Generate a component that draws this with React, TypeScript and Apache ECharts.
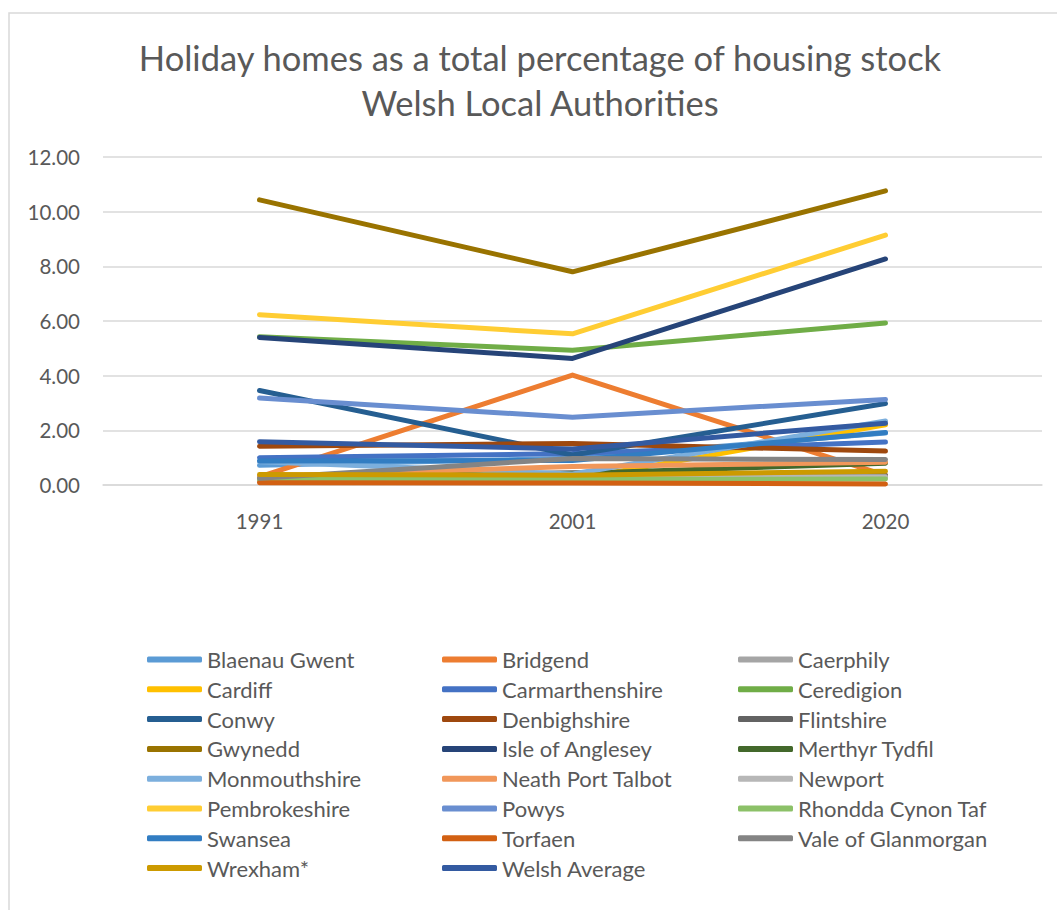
import React, { useEffect, useRef } from "react";
import * as echarts from "echarts";

const years = ["1991", "2001", "2020"];

const seriesNames = [
  "Blaenau Gwent", "Bridgend", "Caerphily",
  "Cardiff", "Carmarthenshire", "Ceredigion",
  "Conwy", "Denbighshire", "Flintshire",
  "Gwynedd", "Isle of Anglesey", "Merthyr Tydfil",
  "Monmouthshire", "Neath Port Talbot", "Newport",
  "Pembrokeshire", "Powys", "Rhondda Cynon Taf",
  "Swansea", "Torfaen", "Vale of Glanmorgan",
  "Wrexham*", "Welsh Average",
];

const blaenauGwent = [0.72, 0.98, 1.9];
const bridgend = [0.3, 4.02, 0.35];
const caerphily = [0.2, 0.2, 0.3];
const cardiff = [0.2, 0.2, 2.2];
const carmarthenshire = [1.0, 1.15, 1.57];
const ceredigion = [5.42, 4.93, 5.93];
const conwy = [3.46, 1.1, 2.98];
const denbighshire = [1.42, 1.52, 1.24];
const flintshire = [0.25, 0.45, 0.36];
const gwynedd = [10.43, 7.8, 10.76];
const isleOfAnglesey = [5.4, 4.63, 8.27];
const merthyrTydfil = [0.28, 0.42, 0.8];
const monmouthshire = [0.85, 0.4, 2.34];
const neathPortTalbot = [0.3, 0.68, 0.83];
const newport = [0.15, 0.3, 0.3];
const pembrokeshire = [6.23, 5.53, 9.14];
const powys = [3.18, 2.48, 3.13];
const rhonddaCynonTaf = [0.2, 0.2, 0.22];
const swansea = [0.88, 0.9, 1.92];
const torfaen = [0.08, 0.07, 0.04];
const valeOfGlanmorgan = [0.25, 0.97, 0.93];
const wrexham = [0.38, 0.36, 0.5];
const welshAverage = [1.58, 1.32, 2.26];

const seriesValues = [
  blaenauGwent, bridgend, caerphily,
  cardiff, carmarthenshire, ceredigion,
  conwy, denbighshire, flintshire,
  gwynedd, isleOfAnglesey, merthyrTydfil,
  monmouthshire, neathPortTalbot, newport,
  pembrokeshire, powys, rhonddaCynonTaf,
  swansea, torfaen, valeOfGlanmorgan,
  wrexham, welshAverage,
];

const seriesColors = [
  "#5B9BD5", "#ED7D31", "#A5A5A5",
  "#FFC000", "#4472C4", "#70AD47",
  "#255E91", "#9E480E", "#636363",
  "#997300", "#264478", "#43682B",
  "#7CAFDD", "#F1975A", "#B7B7B7",
  "#FFCD33", "#698ED0", "#8CC168",
  "#327DC2", "#D26012", "#848484",
  "#CC9A00", "#335AA1",
];

const titleLines = [
  "Holiday homes as a total percentage of housing stock",
  "Welsh Local Authorities",
];

const FONT = "Lato, 'Open Sans', sans-serif";
const TEXT_COLOR = "#595959";

export default function App() {
  const ref = useRef<HTMLDivElement>(null);

  useEffect(() => {
    if (!ref.current) return;
    const chart = echarts.init(ref.current, undefined, { renderer: "svg" });

    const legendCols = [0, 1, 2].map((c) => ({
      orient: "vertical" as const,
      left: [142, 437, 733][c],
      top: 643,
      itemWidth: 55,
      itemHeight: 6,
      itemGap: 6.8,
      icon: "roundRect",
      textStyle: {
        color: TEXT_COLOR,
        fontFamily: FONT,
        fontSize: 22,
        lineHeight: 23,
      },
      data: seriesNames.filter((_, i) => i % 3 === c),
    }));

    chart.setOption({
      animation: false,
      backgroundColor: "#ffffff",
      graphic: [
        {
          type: "rect",
          shape: { x: 9, y: 13, width: 1200, height: 1200 },
          style: { fill: "none", stroke: "#D9D9D9", lineWidth: 1.5 },
          silent: true,
        },
        {
          type: "text",
          x: 540,
          y: 57,
          style: {
            text: titleLines[0],
            fill: TEXT_COLOR,
            font: `34.5px ${FONT}`,
            align: "center",
            verticalAlign: "middle",
          },
        },
        {
          type: "text",
          x: 540,
          y: 102,
          style: {
            text: titleLines[1],
            fill: TEXT_COLOR,
            font: `34.5px ${FONT}`,
            align: "center",
            verticalAlign: "middle",
          },
        },
      ],
      grid: { left: 103, right: 15, top: 157, bottom: 425, containLabel: false },
      legend: legendCols,
      xAxis: {
        type: "category",
        data: years,
        boundaryGap: true,
        axisLine: { show: true, lineStyle: { color: "#D9D9D9", width: 1.5 } },
        axisTick: { show: false },
        axisLabel: {
          color: TEXT_COLOR,
          fontFamily: FONT,
          fontSize: 20.5,
          margin: 25,
        },
      },
      yAxis: {
        type: "value",
        min: 0,
        max: 12,
        interval: 2,
        axisLine: { show: false },
        axisTick: { show: false },
        axisLabel: {
          color: TEXT_COLOR,
          fontFamily: FONT,
          fontSize: 20.5,
          margin: 23,
          formatter: (v: number) => v.toFixed(2),
        },
        splitLine: { lineStyle: { color: "#D9D9D9", width: 1.5 } },
      },
      series: seriesNames.map((name, i) => ({
        name,
        type: "line",
        data: seriesValues[i],
        symbol: "none",
        color: seriesColors[i],
        lineStyle: { width: 5, color: seriesColors[i], cap: "round", join: "round" },
      })),
    });

    return () => chart.dispose();
  }, []);

  return (
    <div
      ref={ref}
      style={{ position: "absolute", left: 0, top: 0, width: 1057, height: 910 }}
    />
  );
}
